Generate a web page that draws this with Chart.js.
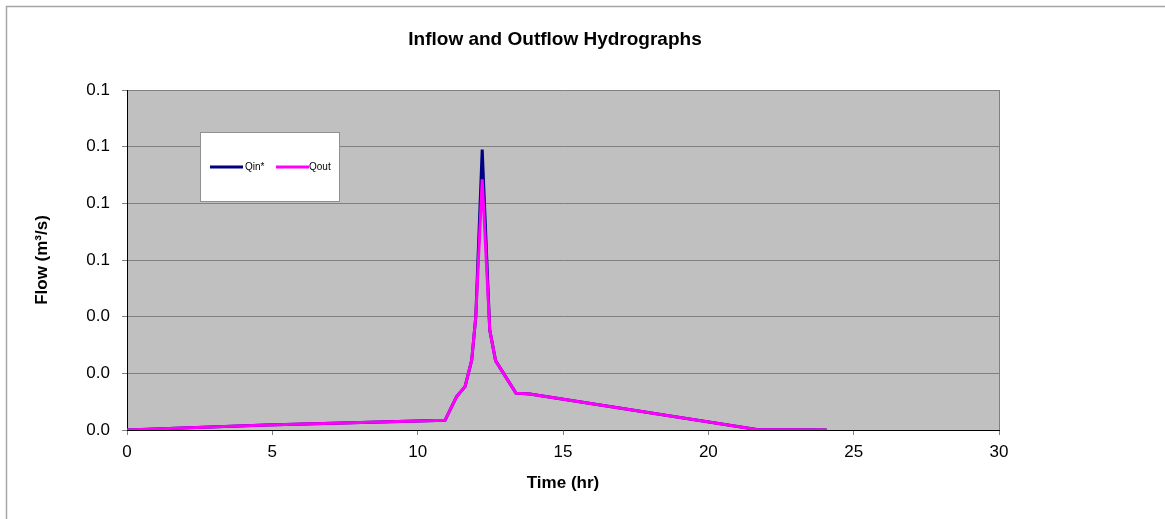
<!DOCTYPE html>
<html><head><meta charset="utf-8">
<script src="https://cdn.jsdelivr.net/npm/chart.js@4"></script>
<style>html,body{margin:0;padding:0;background:#fff;overflow:hidden}</style>
</head><body><canvas id="c" width="1165" height="519"></canvas>
<script>
const titleText = 'Inflow and Outflow Hydrographs';
const xTitle = 'Time (hr)';
const yTitle = 'Flow (m\u00B3/s)';
const seriesNames = ['Qin*', 'Qout'];
const timeHr = [0, 4.8, 10.94, 11.34, 11.63, 11.86, 12.0, 12.22, 12.48, 12.68, 13.1, 13.38, 13.86, 21.66, 24.07];
const qin    = [0, 0.0018, 0.0034, 0.0118, 0.0153, 0.0247, 0.040, 0.099, 0.0353, 0.0245, 0.0176, 0.013, 0.0127, 0.0002, 0];
const qout   = [0, 0.0018, 0.0034, 0.0118, 0.0153, 0.0247, 0.040, 0.0885, 0.0353, 0.0245, 0.0176, 0.013, 0.0127, 0.0002, 0];
const xTickValues = [0, 5, 10, 15, 20, 25, 30];
const yTickValues = [0, 0.02, 0.04, 0.06, 0.08, 0.10, 0.12];
const colors = ['#000080', '#FF00FF'];

const FONT = "'Liberation Sans', Arial, sans-serif";

const pts = (xs, ys) => xs.map((x, i) => ({x: x, y: ys[i]}));

const decor = {
  id: 'decor',
  beforeDraw(chart) {
    const ctx = chart.ctx, a = chart.chartArea;
    ctx.save();
    ctx.fillStyle = '#fff';
    ctx.fillRect(0, 0, chart.width, chart.height);
    ctx.strokeStyle = '#a6a6a6';
    ctx.lineWidth = 1.5;
    ctx.beginPath();
    ctx.moveTo(6.5, chart.height); ctx.lineTo(6.5, 6.5); ctx.lineTo(chart.width, 6.5);
    ctx.stroke();
    ctx.fillStyle = '#C0C0C0';
    ctx.fillRect(a.left, a.top, a.right - a.left, a.bottom - a.top);
    ctx.restore();
  },
  afterDatasetsDraw(chart) {
    const ctx = chart.ctx, a = chart.chartArea;
    ctx.save();
    ctx.strokeStyle = '#808080';
    ctx.lineWidth = 1;
    ctx.beginPath();
    ctx.moveTo(a.right + 0.5, a.top); ctx.lineTo(a.right + 0.5, a.bottom);
    ctx.stroke();
    // legend box
    const bx = 200, by = 132, bw = 139, bh = 69;
    ctx.fillStyle = '#fff';
    ctx.fillRect(bx, by, bw, bh);
    ctx.strokeStyle = '#909090';
    ctx.strokeRect(bx + 0.5, by + 0.5, bw, bh);
    const items = [{x: 210, tx: 245}, {x: 276, tx: 309}];
    ctx.font = '10px ' + FONT;
    ctx.textBaseline = 'middle';
    ctx.fillStyle = '#000';
    items.forEach((it, i) => {
      ctx.strokeStyle = colors[i];
      ctx.lineWidth = 3;
      ctx.beginPath();
      ctx.moveTo(it.x, 167); ctx.lineTo(it.x + 33, 167);
      ctx.stroke();
      ctx.fillText(seriesNames[i], it.tx, 167);
    });
    ctx.restore();
  }
};

new Chart(document.getElementById('c'), {
  type: 'scatter',
  data: {
    datasets: [
      {label: seriesNames[0], data: pts(timeHr, qin), showLine: true, borderColor: colors[0], backgroundColor: colors[0], borderWidth: 3, pointRadius: 0, order: 1, tension: 0},
      {label: seriesNames[1], data: pts(timeHr, qout), showLine: true, borderColor: colors[1], backgroundColor: colors[1], borderWidth: 3, pointRadius: 0, order: 0, tension: 0}
    ]
  },
  options: {
    responsive: false,
    animation: false,
    devicePixelRatio: 1,
    layout: {padding: {left: 0, right: 55, top: 0, bottom: 0}},
    plugins: {
      legend: {display: false},
      tooltip: {enabled: false},
      title: {
        display: true, text: titleText, color: '#000',
        font: {family: FONT, size: 19, weight: 'bold'},
        padding: {top: 28, bottom: 39.2}
      }
    },
    scales: {
      x: {
        type: 'linear', min: 0, max: 30,
        afterBuildTicks: s => { s.ticks = xTickValues.map(v => ({value: v})); },
        afterFit: s => { s.height = 89; },
        ticks: {color: '#000', font: {family: FONT, size: 17}, padding: 7, maxRotation: 0},
        grid: {drawOnChartArea: false, drawTicks: true, tickLength: 5, color: '#808080'},
        border: {display: true, color: '#000', width: 1},
        title: {display: true, text: xTitle, color: '#000', font: {family: FONT, size: 17, weight: 'bold'}, padding: {top: 0, bottom: 25.8}}
      },
      y: {
        type: 'linear', min: 0, max: 0.12,
        afterBuildTicks: s => { s.ticks = yTickValues.map(v => ({value: v})); },
        afterFit: s => { s.width = 127; },
        ticks: {color: '#000', font: {family: FONT, size: 17}, padding: 12, callback: v => v.toFixed(1)},
        grid: {color: '#808080', tickLength: 5, lineWidth: 1},
        border: {display: true, color: '#000', width: 1},
        title: {display: true, text: yTitle, color: '#000', font: {family: FONT, size: 17, weight: 'bold'}, padding: {top: 31.8, bottom: 0}}
      },
      y2: {
        type: 'linear', position: 'right', display: true,
        afterFit: s => { s.width = 111; },
        ticks: {display: false},
        grid: {display: false, drawTicks: false},
        border: {display: false}
      }
    }
  },
  plugins: [decor]
});
</script>
</body></html>
